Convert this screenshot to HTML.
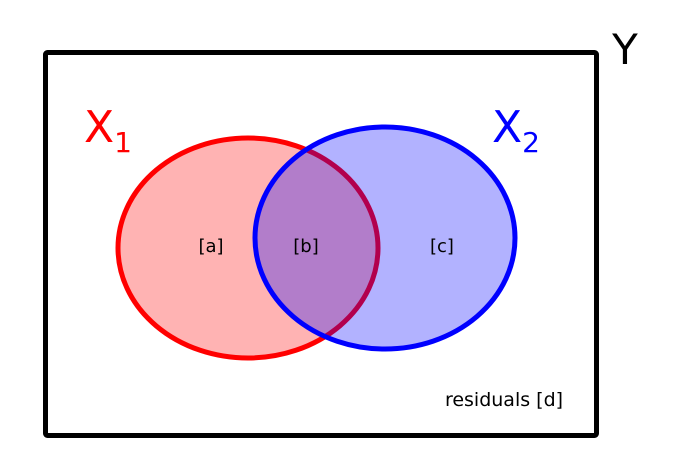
<!DOCTYPE html>
<html><head><meta charset="utf-8"><style>
html,body{margin:0;padding:0;background:#fff;}
svg{display:block;font-family:"DejaVu Sans","Liberation Sans",sans-serif;}
</style></head><body>
<svg width="676" height="475" viewBox="0 0 676 475">
<rect x="45.5" y="52.5" width="551" height="383" rx="2" fill="none" stroke="#000" stroke-width="5"/>
<text x="625" y="64" font-size="42" text-anchor="middle" fill="#000">Y</text>
<ellipse cx="248" cy="248" rx="130" ry="110" fill="#ffb3b3" stroke="#ff0000" stroke-width="5"/>
<ellipse cx="385" cy="238" rx="130" ry="111" fill="#0000ff" fill-opacity="0.3" stroke="none"/>
<ellipse cx="385" cy="238" rx="130" ry="111" fill="none" stroke="#0000ff" stroke-width="5"/>
<text x="84" y="142" font-size="44" fill="#ff0000">X<tspan font-size="28" dy="10">1</tspan></text>
<text x="492" y="142" font-size="44" fill="#0000ff">X<tspan font-size="28" dy="10">2</tspan></text>
<text x="211" y="252" font-size="18" text-anchor="middle" fill="#000">[a]</text>
<text x="306" y="252" font-size="18" text-anchor="middle" fill="#000">[b]</text>
<text x="442" y="252" font-size="18" text-anchor="middle" fill="#000">[c]</text>
<text x="504" y="406" font-size="19" text-anchor="middle" fill="#000">residuals [d]</text>
</svg>
</body></html>
